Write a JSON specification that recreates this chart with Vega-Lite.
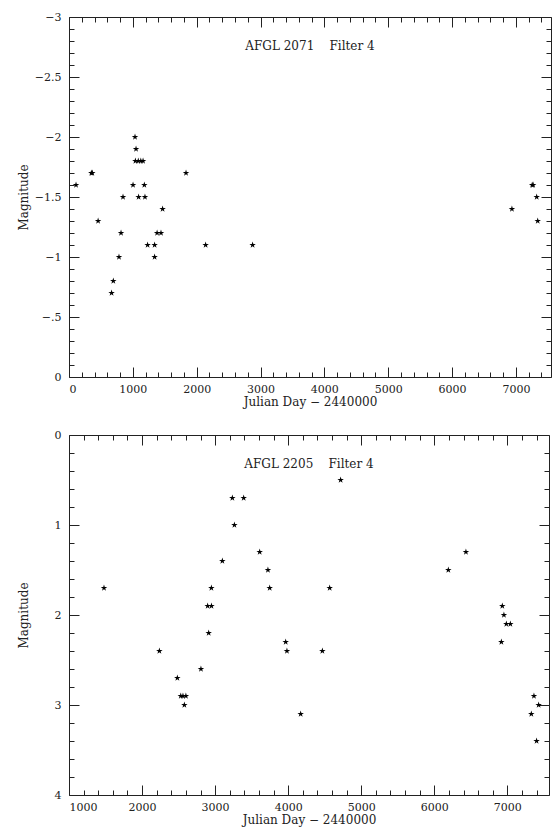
{
  "$schema": "https://vega.github.io/schema/vega-lite/v6.json",
  "background": "white",
  "padding": {"left": 16, "top": 10, "right": 5, "bottom": 5},
  "spacing": 20,
  "config": {
    "view": {"stroke": "#222222", "strokeWidth": 1}
  },
  "vconcat": [
    {
      "width": 482, "height": 360,
      "title": {"text": "AFGL 2071\u00a0\u00a0\u00a0\u00a0Filter 4", "offset": -42, "font": "DejaVu Serif", "fontSize": 12, "fontWeight": "normal", "color": "#222222", "anchor": "middle", "frame": "group"},
      "data": {"values": [
        {"day": 110, "mag": -1.6}, {"day": 350, "mag": -1.7}, {"day": 365, "mag": -1.7},
        {"day": 456, "mag": -1.3}, {"day": 667, "mag": -0.7}, {"day": 694, "mag": -0.8},
        {"day": 783, "mag": -1.0}, {"day": 815, "mag": -1.2}, {"day": 846, "mag": -1.5},
        {"day": 1003, "mag": -1.6}, {"day": 1034, "mag": -2.0}, {"day": 1050, "mag": -1.9},
        {"day": 1040, "mag": -1.8}, {"day": 1085, "mag": -1.8}, {"day": 1125, "mag": -1.8}, {"day": 1160, "mag": -1.8},
        {"day": 1090, "mag": -1.5}, {"day": 1180, "mag": -1.6}, {"day": 1190, "mag": -1.5},
        {"day": 1231, "mag": -1.1}, {"day": 1341, "mag": -1.1}, {"day": 1341, "mag": -1.0},
        {"day": 1380, "mag": -1.2}, {"day": 1441, "mag": -1.2}, {"day": 1466, "mag": -1.4},
        {"day": 1833, "mag": -1.7}, {"day": 2140, "mag": -1.1}, {"day": 2876, "mag": -1.1},
        {"day": 6938, "mag": -1.4}, {"day": 7255, "mag": -1.6}, {"day": 7270, "mag": -1.6},
        {"day": 7326, "mag": -1.5}, {"day": 7342, "mag": -1.3}
      ]},
      "mark": {"type": "point", "shape": "M0,-1L0.223,-0.307L0.951,-0.309L0.361,0.117L0.588,0.809L0,0.38L-0.588,0.809L-0.361,0.117L-0.951,-0.309L-0.223,-0.307Z", "filled": true, "size": 46, "color": "black", "opacity": 1},
      "encoding": {
        "x": {"field": "day", "type": "quantitative", "scale": {"domain": [0, 7550], "nice": false, "zero": false},
          "axis": {"orient": "bottom",
            "values": [0, 200, 400, 600, 800, 1000, 1200, 1400, 1600, 1800, 2000, 2200, 2400, 2600, 2800, 3000, 3200, 3400, 3600, 3800, 4000, 4200, 4400, 4600, 4800, 5000, 5200, 5400, 5600, 5800, 6000, 6200, 6400, 6600, 6800, 7000, 7200, 7400],
            "labelExpr": "datum.value % 1000 === 0 ? format(datum.value, 'd') : ''",
            "labelOverlap": false, "ticks": false, "tickSize": 0, "domain": false,
            "grid": true, "gridColor": "#222222", "gridWidth": 1, "gridOpacity": 1,
            "gridDash": {"condition": {"test": "datum.value % 1000 === 0", "value": [10, 340, 10]}, "value": [5, 350, 5]},
            "labelFont": "DejaVu Serif", "labelFontSize": 11, "labelColor": "#222222", "labelPadding": 6,
            "title": "Julian Day \u2212 2440000", "titleFont": "DejaVu Serif", "titleFontSize": 12, "titleFontWeight": "normal", "titleColor": "#222222", "titlePadding": 2}},
        "y": {"field": "mag", "type": "quantitative", "scale": {"domain": [-3, 0], "reverse": true, "nice": false, "zero": false},
          "axis": {"orient": "left",
            "values": [-3, -2.9, -2.8, -2.7, -2.6, -2.5, -2.4, -2.3, -2.2, -2.1, -2, -1.9, -1.8, -1.7, -1.6, -1.5, -1.4, -1.3, -1.2, -1.1, -1, -0.9, -0.8, -0.7, -0.6, -0.5, -0.4, -0.3, -0.2, -0.1, 0],
            "labelExpr": "abs(datum.value * 2 - round(datum.value * 2)) > 0.001 ? '' : (datum.value == 0 ? '0' : (datum.value == -0.5 ? '\u2212.5' : '\u2212' + format(-datum.value, '~g')))",
            "labelOverlap": false, "ticks": false, "tickSize": 0, "domain": false,
            "grid": true, "gridColor": "#222222", "gridWidth": 1, "gridOpacity": 1,
            "gridDash": {"condition": {"test": "abs(datum.value * 2 - round(datum.value * 2)) < 0.001", "value": [10, 462, 10]}, "value": [5, 472, 5]},
            "labelFont": "DejaVu Serif", "labelFontSize": 11, "labelColor": "#222222", "labelPadding": 8,
            "title": "Magnitude", "titleFont": "DejaVu Serif", "titleFontSize": 12, "titleFontWeight": "normal", "titleColor": "#222222", "titleX": -39}}
      }
    },
    {
      "width": 480, "height": 360,
      "title": {"text": "AFGL 2205\u00a0\u00a0\u00a0\u00a0Filter 4", "offset": -42, "font": "DejaVu Serif", "fontSize": 12, "fontWeight": "normal", "color": "#222222", "anchor": "middle", "frame": "group"},
      "data": {"values": [
        {"day": 1479, "mag": 1.7}, {"day": 2237, "mag": 2.4}, {"day": 2483, "mag": 2.7},
        {"day": 2530, "mag": 2.9}, {"day": 2560, "mag": 2.9}, {"day": 2600, "mag": 2.9},
        {"day": 2579, "mag": 3.0}, {"day": 2806, "mag": 2.6}, {"day": 2912, "mag": 2.2},
        {"day": 2898, "mag": 1.9}, {"day": 2950, "mag": 1.9}, {"day": 2949, "mag": 1.7},
        {"day": 3099, "mag": 1.4}, {"day": 3236, "mag": 0.7}, {"day": 3264, "mag": 1.0},
        {"day": 3391, "mag": 0.7}, {"day": 3610, "mag": 1.3}, {"day": 3723, "mag": 1.5},
        {"day": 3747, "mag": 1.7}, {"day": 3966, "mag": 2.3}, {"day": 3983, "mag": 2.4},
        {"day": 4171, "mag": 3.1}, {"day": 4468, "mag": 2.4}, {"day": 4568, "mag": 1.7},
        {"day": 4718, "mag": 0.5}, {"day": 6192, "mag": 1.5}, {"day": 6433, "mag": 1.3},
        {"day": 6918, "mag": 2.3}, {"day": 6931, "mag": 1.9}, {"day": 6953, "mag": 2.0},
        {"day": 6986, "mag": 2.1}, {"day": 7041, "mag": 2.1}, {"day": 7328, "mag": 3.1},
        {"day": 7364, "mag": 2.9}, {"day": 7400, "mag": 3.4}, {"day": 7428, "mag": 3.0}
      ]},
      "mark": {"type": "point", "shape": "M0,-1L0.223,-0.307L0.951,-0.309L0.361,0.117L0.588,0.809L0,0.38L-0.588,0.809L-0.361,0.117L-0.951,-0.309L-0.223,-0.307Z", "filled": true, "size": 46, "color": "black", "opacity": 1},
      "encoding": {
        "x": {"field": "day", "type": "quantitative", "scale": {"domain": [1000, 7570], "nice": false, "zero": false},
          "axis": {"orient": "bottom",
            "values": [1000, 1200, 1400, 1600, 1800, 2000, 2200, 2400, 2600, 2800, 3000, 3200, 3400, 3600, 3800, 4000, 4200, 4400, 4600, 4800, 5000, 5200, 5400, 5600, 5800, 6000, 6200, 6400, 6600, 6800, 7000, 7200, 7400],
            "labelExpr": "datum.value % 1000 === 0 ? format(datum.value, 'd') : ''",
            "labelOverlap": false, "ticks": false, "tickSize": 0, "domain": false,
            "grid": true, "gridColor": "#222222", "gridWidth": 1, "gridOpacity": 1,
            "gridDash": {"condition": {"test": "datum.value % 1000 === 0", "value": [10, 340, 10]}, "value": [5, 350, 5]},
            "labelFont": "DejaVu Serif", "labelFontSize": 11, "labelColor": "#222222", "labelPadding": 6,
            "title": "Julian Day \u2212 2440000", "titleFont": "DejaVu Serif", "titleFontSize": 12, "titleFontWeight": "normal", "titleColor": "#222222", "titlePadding": 2}},
        "y": {"field": "mag", "type": "quantitative", "scale": {"domain": [0, 4], "reverse": true, "nice": false, "zero": false},
          "axis": {"orient": "left",
            "values": [0, 0.2, 0.4, 0.6, 0.8, 1, 1.2, 1.4, 1.6, 1.8, 2, 2.2, 2.4, 2.6, 2.8, 3, 3.2, 3.4, 3.6, 3.8, 4],
            "labelExpr": "abs(datum.value - round(datum.value)) > 0.001 ? '' : format(datum.value, 'd')",
            "labelOverlap": false, "ticks": false, "tickSize": 0, "domain": false,
            "grid": true, "gridColor": "#222222", "gridWidth": 1, "gridOpacity": 1,
            "gridDash": {"condition": {"test": "abs(datum.value - round(datum.value)) < 0.001", "value": [10, 460, 10]}, "value": [5, 470, 5]},
            "labelFont": "DejaVu Serif", "labelFontSize": 11, "labelColor": "#222222", "labelPadding": 8,
            "title": "Magnitude", "titleFont": "DejaVu Serif", "titleFontSize": 12, "titleFontWeight": "normal", "titleColor": "#222222", "titleX": -39}}
      }
    }
  ]
}
